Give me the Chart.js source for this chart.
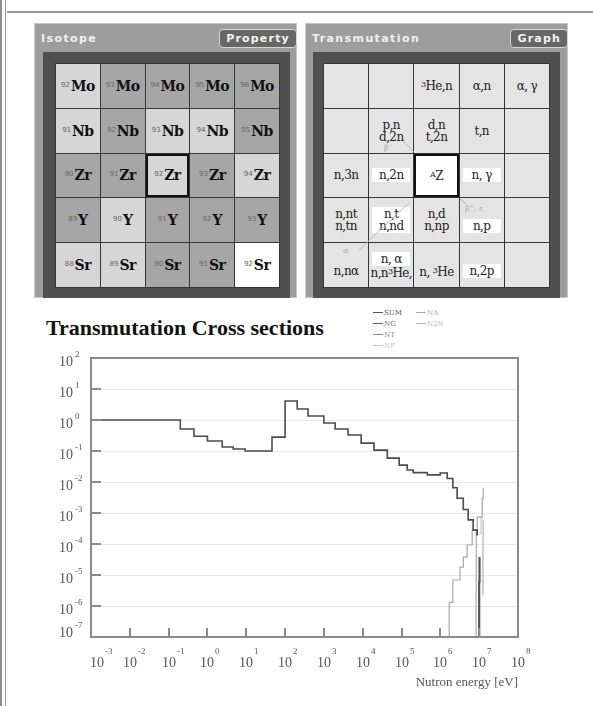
<!DOCTYPE html>
<html>
<head>
<meta charset="utf-8">
<title>Transmutation Cross sections</title>
<script src="https://cdn.jsdelivr.net/npm/chart.js@4.4.1/dist/chart.umd.min.js"></script>
<style>
  body { margin:0; width:593px; height:706px; position:relative; overflow:hidden; background:#fff; }
  .edge { position:absolute; }
  .panel { position:absolute; top:23px; width:263px; height:275px; background:#9d9d9d; border:1px solid #c8c8c8; box-sizing:border-box; }
  .panel-title { position:absolute; left:6px; top:9px; font:bold 11px "DejaVu Sans"; letter-spacing:1.4px; color:#f0f0f0; line-height:12px; }
  .panel-btn { position:absolute; top:5px; right:-1px; height:19px; box-sizing:border-box; border:1px solid #d6d6d6; border-radius:4px; background:#676767; color:#f4f4f4; font:bold 11px "DejaVu Sans"; letter-spacing:1.2px; line-height:17px; padding:0 6px; }
  .frame { position:absolute; top:28px; width:247px; height:246px; background:#4f4f4f; }
  .cells { position:absolute; top:11px; height:225px; display:grid; grid-template-columns:repeat(5,1fr); grid-template-rows:repeat(5,1fr); gap:1px; background:#363636; border:1px solid #363636; box-sizing:border-box; }
  .cell { display:flex; align-items:center; justify-content:center; flex-direction:column; box-sizing:border-box; overflow:visible; }
  .iso { font:bold 14px "DejaVu Serif"; color:#111; letter-spacing:-0.5px; }
  .iso sup { font:7px "DejaVu Sans"; color:#666; vertical-align:4px; margin-right:1px; letter-spacing:0; }
  .rx { font:12px "DejaVu Serif"; color:#222; line-height:12px; text-align:center; letter-spacing:-0.6px; white-space:nowrap; }
  .hl { background:#fff; display:inline-block; min-width:38px; padding:1px 0; }
  .rx sup { font-size:8px; vertical-align:3px; }
  #heading { position:absolute; left:46px; top:317px; font:bold 22px "Liberation Serif"; line-height:22px; color:#111; }
  #legend { position:absolute; left:0; top:0; }
  .leg { position:absolute; font:7px "DejaVu Serif"; line-height:8px; white-space:nowrap; }
  .leg i { display:inline-block; width:10px; height:1px; vertical-align:2px; margin-right:1px; }
  #chart { position:absolute; left:40px; top:300px; }
  svg { position:absolute; left:0; top:0; }
</style>
</head>
<body>
<div class="edge" style="left:0;top:0;width:2px;height:706px;background:#8c8c8c"></div>
<div class="edge" style="left:5px;top:0;width:1px;height:706px;background:#9c9c9c"></div>
<div class="edge" style="left:7px;top:11px;width:586px;height:2px;background:#999"></div>

<div class="panel" style="left:34px">
  <div class="panel-title">Isotope</div>
  <div class="panel-btn">Property</div>
  <div class="frame" style="left:8px">
    <div class="cells" id="isoGrid" style="left:12px;width:225px"></div>
  </div>
</div>

<div class="panel" style="left:305px">
  <div class="panel-title">Transmutation</div>
  <div class="panel-btn">Graph</div>
  <div class="frame" style="left:7px">
    <div class="cells" id="rxGrid" style="left:10px;width:227px"></div>
  </div>
</div>

<svg width="593" height="300">
  <line x1="404" y1="142" x2="414" y2="152" stroke="#aaa" stroke-width="1" stroke-dasharray="2,1"/>
  <text x="384" y="150" font-family="DejaVu Serif" font-size="8" fill="#aaa">β⁻</text>
  <line x1="460" y1="199" x2="466" y2="204" stroke="#aaa" stroke-width="1"/>
  <text x="465" y="211" font-family="DejaVu Serif" font-size="8" fill="#aaa">β⁺, ε</text>
  <line x1="410" y1="202" x2="359" y2="250" stroke="#bbb" stroke-width="1"/>
  <text x="343" y="253" font-family="DejaVu Serif" font-size="8" fill="#aaa">α</text>
</svg>

<div id="heading">Transmutation Cross sections</div>
<div id="legend"></div>
<canvas id="chart" width="540" height="406"></canvas>

<script>
// isotope map around the target nucleus (rows: Z from Mo down to Sr, columns: N)
const isoSymbols = ['Mo', 'Nb', 'Zr', 'Y', 'Sr'];
const isoMass = [
  [92, 93, 94, 95, 96],
  [91, 92, 93, 94, 95],
  [90, 91, 92, 93, 94],
  [89, 90, 91, 92, 93],
  [88, 89, 90, 91, 92]
];
const isoShade = ['LMMMM', 'LMLLM', 'MMLML', 'MLMMM', 'LLMMW'];

// reaction map (same layout, target AZ in the middle)
const rxCells = [
  '', '', '<sup>3</sup>He,n', 'α,n', 'α, γ',
  '', 'p,n<br>d,2n', 'd,n<br>t,2n', 't,n', '',
  'n,3n', '<span class="hl">n,2n</span>', '<sup>A</sup>Z', '<span class="hl">n, γ</span>', '',
  'n,nt<br>n,tn', '<span class="hl">n,t<br>n,nd</span>', 'n,d<br>n,np', '<br><span class="hl">n,p</span>', '',
  '<br>n,nα', '<span class="hl">n, α</span><br>n,n<sup>3</sup>He,', '<br>n, <sup>3</sup>He', '<br><span class="hl">n,2p</span>', ''
];

// cross sections: energy [eV], cross section [b]
const sumEnergy = [1e-3, 0.2, 0.45, 1.0, 2.4, 4.6, 9.3, 46, 100, 205, 390, 1000, 1950, 4200, 9100,
  1.95e4, 4.3e4, 8.7e4, 1.4e5, 2.0e5, 4.6e5, 9.9e5, 1.5e6, 2.1e6, 2.7e6, 3.9e6, 5.2e6, 7.0e6, 8.9e6, 9.3e6];
const sumXs = [1.0, 0.51, 0.30, 0.21, 0.135, 0.116, 0.10, 0.28, 4.1, 2.26, 1.35, 0.80, 0.51, 0.33, 0.18,
  0.107, 0.059, 0.035, 0.0245, 0.02, 0.017, 0.0195, 0.013, 0.0065, 0.003, 0.0013, 6e-4, 2.8e-4, 2.0e-4, 2.0e-4];
const ngEnergy = [9.9e6, 1.0e7, 1.02e7];
const ngXs = [1e-7, 6e-6, 3.8e-5];
const ntEnergy = [8.2e6, 8.3e6, 8.4e6];
const ntXs = [1e-7, 3e-6, 2.8e-4];
const npEnergy = [1.69e6, 1.69e6, 2.1e6, 3.2e6, 3.9e6, 4.9e6, 6.6e6, 8.9e6, 1.2e7, 1.27e7];
const npXs = [1e-7, 1.3e-6, 6.9e-6, 1.8e-5, 3.8e-5, 9.3e-5, 2.8e-4, 7.4e-4, 3.0e-3, 6.5e-3];
const naEnergy = [1.24e7, 1.25e7, 1.26e7];
const naXs = [2.2e-6, 6e-5, 5.9e-4];
const n2nEnergy = [1.1e7, 1.11e7, 1.12e7];
const n2nXs = [2e-4, 4e-4, 8e-4];

const xDecades = [-3, -2, -1, 0, 1, 2, 3, 4, 5, 6, 7, 8];
const yDecades = [2, 1, 0, -1, -2, -3, -4, -5, -6, -7];

const shadeColor = { L: '#d6d6d6', M: '#a6a6a6', W: '#ffffff' };

document.addEventListener('DOMContentLoaded', () => {
  // isotope grid
  document.getElementById('isoGrid').innerHTML = isoSymbols.map((sym, r) =>
    isoMass[r].map((a, c) => {
      const center = r === 2 && c === 2;
      return `<div class="cell" style="background:${shadeColor[isoShade[r][c]]};${center ? 'border:2px solid #111;' : ''}">
        <span class="iso"><sup>${a}</sup>${sym}</span></div>`;
    }).join('')
  ).join('');

  // reaction grid
  document.getElementById('rxGrid').innerHTML = rxCells.map((txt, i) => {
    const center = i === 12;
    const bg = center ? '#fff' : '#e4e4e4';
    return `<div class="cell" style="background:${bg};${center ? 'border:2px solid #111;' : ''}">
      <div class="rx">${txt}</div></div>`;
  }).join('');

  const series = [
    { label: 'SUM', e: sumEnergy, s: sumXs, color: '#4b4b4b', width: 1.6, legend: '#555' },
    { label: 'NG', e: ngEnergy, s: ngXs, color: '#555', width: 2.2, legend: '#666' },
    { label: 'NT', e: ntEnergy, s: ntXs, color: '#9a9a9a', width: 1, legend: '#888' },
    { label: 'NP', e: npEnergy, s: npXs, color: '#a8a8a8', width: 1.2, legend: '#c4c4c4' },
    { label: 'NA', e: naEnergy, s: naXs, color: '#a0a0a0', width: 1, legend: '#aaa' },
    { label: 'N2N', e: n2nEnergy, s: n2nXs, color: '#c4c4c4', width: 1, legend: '#bbb' }
  ];

  // small legend, two columns
  document.getElementById('legend').innerHTML = series.map((d, i) => {
    const col = i < 4 ? 0 : 1;
    const row = i < 4 ? i : i - 4;
    return `<div class="leg" style="left:${373 + col * 43}px;top:${309 + row * 11}px;color:${d.legend}">
      <i style="background:${d.legend}"></i>${d.label}</div>`;
  }).join('');

  const axisDeco = {
    id: 'axisDeco',
    afterDatasetsDraw(chart) {
      const { ctx, chartArea: a, scales: { x, y } } = chart;
      ctx.save();
      ctx.strokeStyle = '#8a8a8a';
      ctx.lineWidth = 2;
      ctx.strokeRect(a.left, a.top, a.right - a.left, a.bottom - a.top);

      ctx.fillStyle = '#555';
      y.ticks.forEach(t => {
        const py = Math.round(y.getPixelForValue(t.value));
        ctx.beginPath();
        ctx.moveTo(a.left, py);
        ctx.lineTo(a.left + 10, py);
        ctx.stroke();
        const exp = Math.round(Math.log10(t.value));
        const ly = Math.min(py + 4, a.bottom - 4);
        ctx.font = '14px "Liberation Serif"';
        ctx.textAlign = 'right';
        ctx.textBaseline = 'middle';
        ctx.fillText('10', a.left - 18, ly);
        ctx.font = '9px "Liberation Serif"';
        ctx.textAlign = 'left';
        ctx.fillText(String(exp), a.left - 16, ly - 7);
      });

      x.ticks.forEach(t => {
        const px = Math.round(x.getPixelForValue(t.value));
        ctx.beginPath();
        ctx.moveTo(px, a.bottom);
        ctx.lineTo(px, a.bottom - 9);
        ctx.stroke();
        const exp = Math.round(Math.log10(t.value));
        const lx = Math.max(px - 7, a.left - 1);
        ctx.font = '14px "Liberation Serif"';
        ctx.textAlign = 'left';
        ctx.textBaseline = 'middle';
        ctx.fillText('10', lx, a.bottom + 26);
        ctx.font = '9px "Liberation Serif"';
        ctx.fillText(String(exp), lx + 15, a.bottom + 15);
      });

      ctx.font = '13px "Liberation Serif"';
      ctx.textAlign = 'right';
      ctx.fillText('Nutron energy [eV]', a.right, a.bottom + 46);
      ctx.restore();
    }
  };

  new Chart(document.getElementById('chart').getContext('2d'), {
    type: 'line',
    data: {
      datasets: series.map(d => ({
        label: d.label,
        data: d.e.map((e, i) => ({ x: e, y: d.s[i] })),
        borderColor: d.color,
        borderWidth: d.width,
        pointRadius: 0,
        fill: false,
        stepped: 'before'
      }))
    },
    options: {
      responsive: false,
      animation: false,
      devicePixelRatio: 1,
      layout: { padding: { top: 58, left: 51, right: 62, bottom: 69 } },
      plugins: { legend: { display: false }, tooltip: { enabled: false } },
      scales: {
        x: {
          type: 'logarithmic', min: 1e-3, max: 1e8,
          ticks: { display: false },
          grid: { display: false },
          border: { display: false },
          afterBuildTicks: s => { s.ticks = xDecades.map(e => ({ value: Math.pow(10, e) })); },
          afterFit: s => { s.height = 0; }
        },
        y: {
          type: 'logarithmic', min: 1e-7, max: 1e2,
          ticks: { display: false },
          grid: { color: '#e8e8e8', drawTicks: false, lineWidth: 1 },
          border: { display: false },
          afterBuildTicks: s => { s.ticks = yDecades.map(e => ({ value: Math.pow(10, e) })); },
          afterFit: s => { s.width = 0; }
        }
      }
    },
    plugins: [axisDeco]
  });
});
</script>
</body>
</html>
